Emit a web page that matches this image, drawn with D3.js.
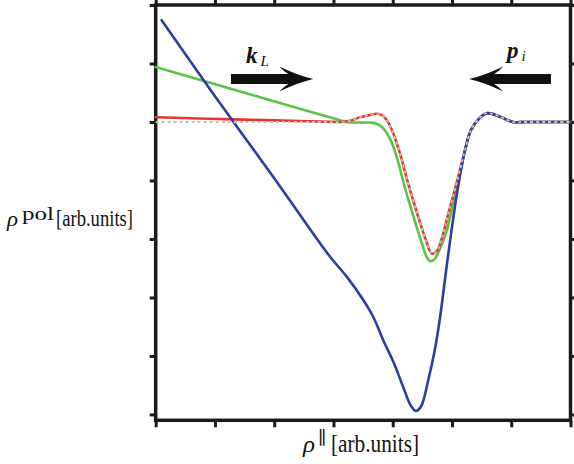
<html>
<head>
<script src="https://d3js.org/d3.v7.min.js"></script>
<style>
  body { margin: 0; background: #fff; }
  .tick line { stroke: #1a1a1a; stroke-width: 3; }
  .domain { display: none; }
  .curve { fill: none; stroke-linejoin: round; stroke-linecap: round; }
  svg text { font-family: "Liberation Serif", "DejaVu Serif", serif; fill: #111; }
</style>
</head>
<body>
<script>

var width = 574,
    height = 464;

// tick positions (no labels on this chart)
var xTicks = [0, 1, 2, 3, 4, 5, 6, 7];
var yTicks = [0, 1, 2, 3, 4, 5, 6, 7];

// curves, [x, y] in axis units
var grey = [[0, 5.0], [1.5, 5.0], [2.9, 5.0], [3.11, 5.0], [3.28, 5.02], [3.45, 5.08], [3.62, 5.12], [3.73, 5.14],
  [3.81, 5.12], [3.90, 5.03], [4.00, 4.83], [4.12, 4.47], [4.26, 3.95], [4.43, 3.38], [4.57, 2.95],
  [4.66, 2.75], [4.75, 2.80], [4.84, 3.05], [4.93, 3.40], [5.10, 4.04], [5.22, 4.52], [5.32, 4.86],
  [5.47, 5.07], [5.59, 5.15], [5.81, 5.09], [6.03, 5.00], [6.23, 5.0], [6.6, 5.0], [7, 5.0]];

var red = [[0, 5.08], [1.5, 5.04], [2.9, 5.005], [3.11, 5.0], [3.28, 5.02], [3.45, 5.08], [3.62, 5.12], [3.73, 5.14],
  [3.81, 5.12], [3.90, 5.03], [4.00, 4.83], [4.12, 4.47], [4.26, 3.95], [4.43, 3.38], [4.57, 2.95],
  [4.66, 2.75], [4.75, 2.80], [4.84, 3.05], [4.93, 3.40], [5.10, 4.04], [5.22, 4.52], [5.32, 4.86],
  [5.47, 5.07], [5.59, 5.15], [5.81, 5.09], [6.03, 5.00], [6.23, 5.0], [6.6, 5.0], [7, 5.0]];

var green = [[0, 5.94], [1.5, 5.50], [2.8, 5.12], [3.1, 5.035], [3.22, 5.00], [3.45, 4.99], [3.62, 4.99],
  [3.73, 4.97], [3.84, 4.89], [3.95, 4.72], [4.06, 4.43], [4.18, 3.97], [4.35, 3.38], [4.49, 2.93],
  [4.58, 2.68], [4.64, 2.62], [4.71, 2.66], [4.80, 2.84], [4.90, 3.10], [5.02, 3.61], [5.16, 4.24],
  [5.32, 4.86], [5.47, 5.07], [5.59, 5.15], [5.81, 5.09], [6.03, 5.00], [6.23, 5.0], [6.6, 5.0], [7, 5.0]];

var blue = [[0.10, 6.74], [1.0, 5.44], [2.0, 4.04], [2.94, 2.70], [3.22, 2.36], [3.50, 1.96], [3.67, 1.67],
  [3.84, 1.27], [4.01, 0.90], [4.18, 0.46], [4.30, 0.16], [4.39, 0.06], [4.48, 0.14], [4.60, 0.59],
  [4.71, 1.10], [4.80, 1.67], [4.92, 2.61], [5.08, 3.75], [5.22, 4.52], [5.32, 4.86], [5.47, 5.07],
  [5.59, 5.15], [5.81, 5.09], [6.03, 5.00], [6.23, 5.0], [6.6, 5.0], [7, 5.0]];

// arrows: [from x, to x, y] in axis units
var arrowK = [1.27, 2.66, 5.735];
var arrowP = [6.67, 5.29, 5.735];

var svg = d3.select("body").append("svg")
  .attr("width", width)
  .attr("height", height)
  .attr("font-family", "Liberation Serif, DejaVu Serif, serif");

var x = d3.scaleLinear().domain([0, 7]).range([155.7, 570.5]);
var y = d3.scaleLinear().domain([-0.1, 7]).range([420.3, 5]);

var x0 = x(0), x1 = x(7), yTop = y(7), yBot = y(-0.1);

svg.append("g").attr("transform", "translate(0," + yBot + ")")
  .call(d3.axisBottom(x).tickValues(xTicks).tickSizeInner(7).tickSizeOuter(0).tickFormat(""));
svg.append("g").attr("transform", "translate(0," + yTop + ")")
  .call(d3.axisTop(x).tickValues(xTicks).tickSizeInner(6).tickSizeOuter(0).tickFormat(""));
svg.append("g").attr("transform", "translate(" + x0 + ",0)")
  .call(d3.axisLeft(y).tickValues(yTicks).tickSizeInner(6).tickSizeOuter(0).tickFormat(""));
svg.append("g").attr("transform", "translate(" + x1 + ",0)")
  .call(d3.axisRight(y).tickValues(yTicks).tickSizeInner(5).tickSizeOuter(0).tickFormat(""));

svg.append("rect")
  .attr("x", x0).attr("y", yTop)
  .attr("width", x1 - x0).attr("height", yBot - yTop)
  .attr("fill", "none").attr("stroke", "#1a1a1a").attr("stroke-width", 3.5);

var line = d3.line()
  .x(function(d) { return x(d[0]); })
  .y(function(d) { return y(d[1]); })
  .curve(d3.curveCatmullRom.alpha(0.5));

var plot = svg.append("g");

plot.append("path").datum(green).attr("class", "curve")
  .attr("d", line).attr("stroke", "#58c444").attr("stroke-width", 2.6);
plot.append("path").datum(red).attr("class", "curve")
  .attr("d", line).attr("stroke", "#e4372b").attr("stroke-width", 2.6);
plot.append("path").datum(blue).attr("class", "curve")
  .attr("d", line).attr("stroke", "#2b3ea3").attr("stroke-width", 2.6);
plot.append("path").datum(grey).attr("class", "curve")
  .attr("d", line).attr("stroke", "#c4c4c4").attr("stroke-width", 1.8)
  .attr("stroke-dasharray", "3,3").style("stroke-linecap", "butt");

function arrow(a) {
  var xs = x(a[0]), xt = x(a[1]), yy = y(a[2]);
  var dir = xt > xs ? 1 : -1;
  var hl = 34, hw = 12.5, sw = 5;
  var xb = xt - dir * hl;
  var p = d3.path();
  p.moveTo(xs, yy - sw);
  p.lineTo(xb + dir * 9, yy - sw);
  p.quadraticCurveTo(xb + dir * 4, yy - sw - 3, xb, yy - hw);
  p.quadraticCurveTo(xb + dir * 20, yy - 3, xt, yy);
  p.quadraticCurveTo(xb + dir * 20, yy + 3, xb, yy + hw);
  p.quadraticCurveTo(xb + dir * 4, yy + sw + 3, xb + dir * 9, yy + sw);
  p.lineTo(xs, yy + sw);
  p.closePath();
  svg.append("path").attr("d", p.toString()).attr("fill", "#111");
}
arrow(arrowK);
arrow(arrowP);

var kl = svg.append("text").attr("x", 246).attr("y", 63);
kl.append("tspan").text("k").style("font-weight", "bold").style("font-style", "italic").style("font-size", "23px");
kl.append("tspan").text("L").attr("dx", 3).attr("dy", 3).style("font-style", "italic").style("font-size", "15px");

var pi = svg.append("text").attr("x", 507).attr("y", 58);
pi.append("tspan").text("p").style("font-weight", "bold").style("font-style", "italic").style("font-size", "23px");
pi.append("tspan").text("i").attr("dx", 3).attr("dy", 3).style("font-style", "italic").style("font-size", "15px");

// axis titles
svg.append("text").attr("x", 7).attr("y", 226).style("font-size", "22px").style("font-style", "italic")
  .attr("textLength", 11).attr("lengthAdjust", "spacingAndGlyphs").text("ρ");
svg.append("text").attr("x", 22).attr("y", 220).style("font-size", "18px")
  .attr("textLength", 32).attr("lengthAdjust", "spacingAndGlyphs").text("pol");
svg.append("text").attr("x", 56).attr("y", 226).style("font-size", "23px")
  .attr("textLength", 77).attr("lengthAdjust", "spacingAndGlyphs").text("[arb.units]");

svg.append("text").attr("x", 303).attr("y", 452).style("font-size", "24px").style("font-style", "italic")
  .attr("textLength", 12).attr("lengthAdjust", "spacingAndGlyphs").text("ρ");
svg.append("text").attr("x", 318).attr("y", 444).style("font-size", "18px").text("∥");
svg.append("text").attr("x", 331).attr("y", 452).style("font-size", "25px")
  .attr("textLength", 88).attr("lengthAdjust", "spacingAndGlyphs").text("[arb.units]");

</script>
</body>
</html>
